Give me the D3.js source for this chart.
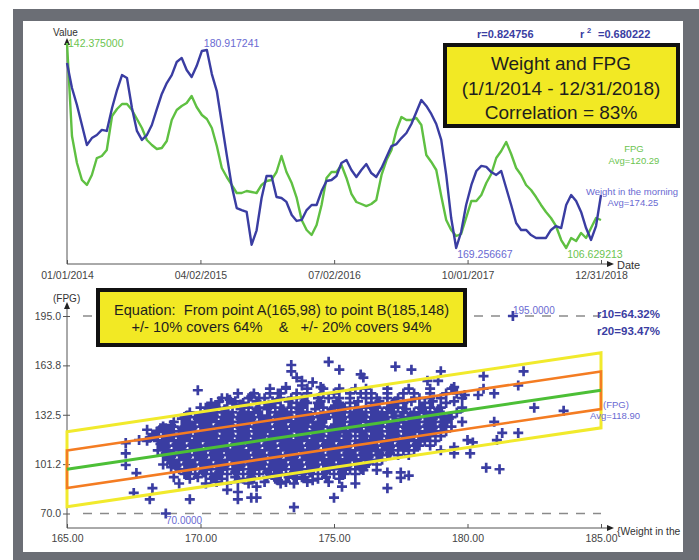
<!DOCTYPE html>
<html>
<head>
<meta charset="utf-8">
<script src="https://cdn.jsdelivr.net/npm/d3@7"></script>
<style>
  body { margin: 0; background: #fff; }
  svg text { font-family: "Liberation Sans", Arial, sans-serif; }
</style>
</head>
<body>
<svg id="chart" width="699" height="560"></svg>
<script>
// ---- Time series (moving averages), sampled evenly from first to last day ----
const startDate = "2014-01-01";
const endDate = "2018-12-31";
const weightAvg = [
  180.15, 178.68, 177.68, 176.50, 175.32, 175.73, 175.91, 176.21, 176.15, 177.50,
  178.56, 179.44, 179.27, 177.50, 176.15, 175.62, 175.91, 176.50, 177.44, 178.33,
  178.97, 179.44, 180.21, 180.45, 179.74, 179.33, 179.97, 180.86, 180.917241, 179.50,
  178.50, 176.62, 174.73, 172.91, 171.61, 171.49, 171.38, 169.45, 170.30, 172.20,
  173.50, 173.50, 172.26, 172.20, 171.97, 171.20, 170.85, 170.91, 171.49, 171.79,
  171.79, 172.61, 173.20, 173.26, 173.50, 174.26, 174.44, 173.85, 173.44, 173.85,
  174.20, 173.67, 173.44, 173.97, 174.62, 175.26, 175.38, 175.73, 176.03, 176.56,
  177.27, 177.97, 177.62, 177.15, 176.56, 175.62, 173.56, 171.02, 169.256667, 170.20,
  171.79, 172.97, 173.79, 174.09, 174.03, 173.73, 173.56, 173.79, 172.79, 171.79,
  170.73, 170.32, 170.32, 170.02, 169.85, 169.85, 169.85, 170.32, 170.55, 170.43,
  171.79, 172.38, 172.02, 171.38, 170.43, 169.73, 170.55, 172.38
];
const fpgAvg = [
  142.375, 126.16, 121.45, 118.49, 117.62, 119.36, 122.32, 122.67, 123.72, 129.65,
  130.87, 131.74, 131.74, 130.69, 129.12, 127.55, 125.46, 124.59, 123.89, 124.07,
  125.29, 128.95, 130.69, 131.39, 131.91, 133.13, 131.22, 129.82, 129.12, 127.55,
  124.42, 120.58, 119.01, 117.62, 116.22, 116.22, 116.57, 116.39, 116.22, 117.62,
  118.31, 118.49, 119.88, 122.67, 119.88, 117.96, 115.35, 111.51, 109.77, 108.90,
  110.64, 114.13, 118.84, 119.88, 119.88, 121.10, 118.84, 116.05, 114.65, 114.30,
  113.95, 114.30, 115.00, 119.36, 121.97, 123.72, 127.21, 129.47, 128.95, 128.95,
  129.30, 128.08, 122.85, 121.63, 120.23, 115.70, 111.51, 109.77, 108.72, 109.07,
  111.86, 114.83, 114.83, 115.87, 117.96, 119.53, 122.32, 123.54, 125.11, 123.02,
  120.58, 119.36, 117.62, 116.74, 115.52, 114.13, 112.91, 111.86, 110.47, 108.02,
  106.629213, 108.37, 107.85, 109.25, 108.37, 110.12, 111.86, 111.51
];
const dateTickLabels = ["01/01/2014", "04/02/2015", "07/02/2016", "10/01/2017", "12/31/2018"];
const weightAvgLabel = "Avg=174.25";
const fpgAvgLabel = "Avg=120.29";
const corrR = "0.824756";
const corrR2 = "0.680222";

// ---- Scatter: daily (weight, FPG) readings ----
// dense part, one row per FPG level: [FPG, weights]
const scatterRows = [
  [149, "172.6 173.2 174.0 174.6 175.2 175.8 176.2 177.0 177.8 178.6 179.4"],
  [146, "171.4 172.0 172.6 173.0 173.6 174.0 174.6 175.0 175.6 176.0 176.4 177.0 177.6 178.0 178.6 179.2 179.6"],
  [143, "170.8 171.0 171.8 172.4 173.0 173.4 173.8 174.4 174.8 175.2 175.6 176.2 176.6 177.0 177.4 178.2 178.6 179.0 179.8"],
  [141, "170.7 171.3 172.1 172.7 173.3 173.9 174.5 175.1 175.9 176.7 177.3 177.9 178.7 179.5"],
  [140, "170.4 171.2 171.6 172.4 172.8 173.6 174.0 174.4 175.2 175.6 176.4 177.2 177.6 178.4 179.2"],
  [137, "170.2 170.6 171.0 171.8 172.2 172.6 173.0 173.4 173.8 174.6 175.0 175.4 175.8 176.2 176.6 177.0 177.4 178.2 178.6 179.0 179.8"],
  [136, "170.3 170.9 171.5 172.1 172.5 173.1 173.7 174.3 174.9 175.3 175.9 176.5 177.1 177.7 178.3 178.9"],
  [134, "169.6 170.0 170.4 170.8 171.2 171.6 172.0 172.8 173.2 173.6 174.0 174.8 175.2 175.6 176.0 176.4 176.8 177.2 177.6 178.0 178.4 178.8 179.6"],
  [132, "169.5 170.1 170.5 171.1 171.7 172.3 172.9 173.3 173.9 174.5 175.1 175.7 176.1 176.7 177.3 177.9 178.5 179.1"],
  [131, "169.4 169.8 170.2 170.6 171.0 171.4 171.8 172.2 172.6 173.0 173.4 173.8 174.2 174.6 175.0 175.4 175.8 176.2 176.6 177.0 177.8 178.2 178.6 179.0 179.4"],
  [130, "169.3 169.9 170.3 170.9 171.5 171.9 172.5 173.1 173.7 174.1 174.7 175.3 175.9 176.5 176.9 177.5 178.1 178.7 179.3"],
  [128, "169.0 169.6 170.0 170.4 170.8 171.2 171.6 172.0 172.4 172.8 173.2 173.6 174.0 174.4 175.2 175.6 176.0 176.4 176.8 177.2 177.6 178.0 178.4 178.8 179.2 179.8"],
  [126, "168.9 169.5 170.1 170.7 171.1 171.7 172.3 172.9 173.5 173.9 174.5 175.1 175.7 176.3 176.7 177.3 177.9 178.5 179.1"],
  [125, "168.6 169.0 169.4 169.8 170.2 170.6 171.0 171.4 171.8 172.2 172.6 173.0 173.4 173.8 174.2 174.6 175.0 175.4 175.8 176.2 176.6 177.0 177.4 177.8 178.2 178.6 179.0 179.4"],
  [124, "168.7 169.3 169.7 170.3 170.9 171.5 172.1 172.5 173.1 173.7 174.3 174.9 175.3 175.9 176.5 177.1 177.7 178.1 178.7"],
  [122, "168.4 168.8 169.2 169.6 170.0 170.4 170.8 171.2 171.6 172.0 172.4 172.8 173.2 173.6 174.0 174.4 174.8 175.2 175.6 176.0 176.4 176.8 177.2 177.6 178.0 178.4 178.8 179.2"],
  [120, "168.3 168.9 169.5 170.1 170.5 171.1 171.7 172.3 172.9 173.3 173.9 174.5 175.1 175.5 176.1 176.7 177.3 177.9 178.5"],
  [119, "168.2 168.6 169.0 169.4 169.8 170.2 170.6 171.0 171.4 171.8 172.2 172.6 173.0 173.4 173.8 174.2 174.6 175.0 175.4 175.8 176.2 176.6 177.0 177.4 177.8 178.2 178.6 179.0"],
  [118, "168.1 168.7 169.3 169.9 170.3 170.9 171.5 172.1 172.7 173.1 173.7 174.3 174.9 175.5 176.1 176.5 177.1 177.7 178.3"],
  [116, "168.0 168.4 168.8 169.2 169.6 170.0 170.4 170.8 171.2 171.6 172.0 172.4 172.8 173.2 173.6 174.0 174.4 174.8 175.2 175.6 176.0 176.4 176.8 177.2 177.6 178.0 178.4 178.8"],
  [114, "168.5 169.1 169.7 170.3 170.7 171.3 171.9 172.5 173.1 173.5 174.1 174.7 175.3 175.9 176.3 176.9 177.5 178.1"],
  [113, "168.6 169.0 169.4 169.8 170.2 170.6 171.0 171.4 171.8 172.2 172.6 173.0 173.4 173.8 174.2 174.6 175.0 175.4 175.8 176.2 176.6 177.0 177.4 177.8 178.2 178.6"],
  [112, "168.7 169.3 169.9 170.5 170.9 171.5 172.1 172.7 173.3 173.7 174.3 174.9 175.5 176.1 176.5 177.1 177.7"],
  [110, "168.4 168.8 169.2 169.6 170.0 170.4 170.8 171.2 171.6 172.0 172.4 172.8 173.2 173.6 174.0 174.4 174.8 175.2 175.6 176.0 176.4 176.8 177.2 177.6 178.0"],
  [108, "168.7 169.3 169.9 170.5 171.1 171.5 172.1 172.7 173.3 173.9 174.3 174.9 175.5 176.1 176.7 177.1"],
  [107, "168.6 169.0 169.4 169.8 170.2 170.6 171.0 171.4 171.8 172.2 172.6 173.0 173.4 173.8 174.2 174.6 175.0 175.4 175.8 176.2 176.6 177.0 177.4 177.8"],
  [106, "168.9 169.5 170.1 170.7 171.3 171.7 172.3 172.9 173.5 174.1 174.5 175.1 175.7 176.3"],
  [104, "168.8 169.2 169.6 170.0 170.4 170.8 171.2 171.6 172.0 172.4 172.8 173.2 173.6 174.0 174.4 174.8 175.2 175.6 176.0 176.4 176.8"],
  [102, "168.9 169.5 170.1 170.7 171.3 171.9 172.3 172.9 173.5 174.1 174.7 175.3 175.9 176.3"],
  [101, "168.6 169.0 169.4 169.8 170.2 170.6 171.0 171.4 171.8 172.2 172.6 173.0 173.4 173.8 174.2 174.6 175.0 175.4 175.8 176.2 176.6"],
  [100, "169.1 169.7 170.3 170.9 171.5 172.1 172.7 173.1 173.7 174.3 174.9 175.5"],
  [98,  "169.2 169.6 170.0 170.4 170.8 171.2 171.6 172.0 172.4 172.8 173.2 173.6 174.0 174.4 174.8 175.2 175.6 176.0"],
  [96,  "169.5 170.1 170.7 171.3 171.9 172.5 172.9 173.5 174.1 174.7 175.3"],
  [95,  "169.4 169.8 170.2 170.6 171.0 171.4 171.8 172.2 172.6 173.0 173.4 173.8 174.2 174.6 175.0 175.4 175.8"],
  [93,  "169.9 170.5 171.3 171.9 172.5 173.3 173.9 174.7"],
  [92,  "169.6 170.4 170.8 171.6 172.0 172.8 173.6 174.4 175.2"],
  [90,  "170.6 171.4 172.4 173.2 174.0"],
  [89,  "170.2 171.0 171.8 173.0"]
];
// scattered readings away from the main cloud: [weight, FPG]
const scatterSparse = [
  [174.8, 166], [175.2, 161], [173.4, 164], [173.4, 160], [173.6, 156], [173.8, 154],
  [173.8, 151], [174.2, 153], [174.5, 150], [169.9, 148], [172.6, 149], [173.2, 150],
  [172.9, 146], [171.9, 144], [172.2, 143], [171.1, 142], [171.5, 139], [170.0, 137],
  [170.5, 137], [177.3, 163], [177.9, 161], [179.0, 160], [180.6, 157], [182.1, 160],
  [181.9, 151], [176.0, 158], [176.1, 156], [178.5, 154], [178.9, 154], [179.5, 150],
  [179.9, 145], [180.4, 145], [180.6, 149], [181.0, 146], [182.5, 137], [183.6, 135],
  [181.7, 195],
  [167.2, 114.6], [167.2, 108], [167.2, 100.7], [167.6, 95.6], [167.5, 83], [168.1, 79],
  [168.2, 86], [168.7, 70], [169.6, 79], [171.4, 83.6], [171.4, 79], [171.9, 80],
  [172.1, 80], [172.1, 87], [173.5, 74], [172.9, 91], [173.5, 89], [173.8, 93],
  [174.2, 91], [174.8, 90], [175.0, 80], [175.3, 87], [170.6, 90], [171.0, 85],
  [167.7, 116.5], [168.0, 123], [168.2, 120], [168.5, 124], [168.9, 99.4], [169.0, 93],
  [169.2, 89], [180.7, 99], [181.2, 98], [181.3, 121], [181.9, 121], [181.1, 116.5],
  [180.0, 116.5], [180.2, 115], [179.5, 112], [180.1, 108], [179.5, 108], [179.0, 110],
  [177.5, 96], [177.5, 92.5], [177.8, 94], [177.0, 96], [176.6, 97.5], [177.0, 86],
  [175.8, 89], [176.1, 97.5], [181.0, 128]
];
const weightTicks = [165, 170, 175, 180, 185];
const fpgTicks = [70, 101.25, 132.5, 163.75, 195];
const fpgTickLabels = ["70.0", "101.2", "132.5", "163.8", "195.0"];
const fpgLimits = [70, 195];
// regression line through A and B, bands as a share of the FPG average
const pointA = [165, 98];
const pointB = [185, 148];
const fpgAverage = 118.90;
const bandShares = [0.10, 0.20];
const bandCoverage = ["64.32%", "93.47%"];

// ---- colours ----
const BLUE = "#3a3da2";
const GREEN = "#5fc042";
const LIGHT_BLUE = "#6a6ad2";
const LIGHT_GREEN = "#6cc450";
const YELLOW = "#f2e924";
const BAND_YELLOW = "#f1ea2c";
const BAND_ORANGE = "#f47c22";
const FIT_GREEN = "#4cbf36";
const AXIS = "#555";
const TICK_TEXT = "#444";

const svg = d3.select("#chart");
svg.append("rect").attr("width", 699).attr("height", 560).attr("fill", "#fff");

function arrowUp(g, x, y) {
  g.append("path").attr("d", `M${x},${y} L${x - 3},${y + 7} L${x + 3},${y + 7} Z`).attr("fill", "#222");
}
function arrowRight(g, x, y) {
  g.append("path").attr("d", `M${x},${y} L${x - 7},${y - 3} L${x - 7},${y + 3} Z`).attr("fill", "#222");
}

// =================== Upper panel: moving averages over time ===================
const gTop = svg.append("g");
const parseIso = d3.timeParse("%Y-%m-%d");
const parseTick = d3.timeParse("%m/%d/%Y");
const t0 = parseIso(startDate), t1 = parseIso(endDate);
const spanDays = d3.timeDay.count(t0, t1);
const sampleDate = i => d3.timeDay.offset(t0, Math.round(i * spanDays / (weightAvg.length - 1)));

const xTime = d3.scaleTime().domain([t0, t1]).range([67, 601]);
const yWeight = d3.scaleLinear().domain(d3.extent(weightAvg)).range([248, 50]);
const yFpg = d3.scaleLinear().domain(d3.extent(fpgAvg)).range([248, 43]);

const xAxisTop = d3.axisBottom(xTime)
  .tickValues(dateTickLabels.map(parseTick))
  .tickFormat((d, i) => dateTickLabels[i])
  .tickSizeInner(-4).tickSizeOuter(0).tickPadding(8);
const gxt = gTop.append("g").attr("transform", "translate(0,264)").call(xAxisTop);
gxt.select(".domain").remove();
gxt.selectAll(".tick line").attr("stroke", AXIS);
gxt.selectAll(".tick text").attr("fill", TICK_TEXT).attr("font-size", 10.5)
  .attr("font-family", "Liberation Sans, Arial, sans-serif");

gTop.append("line").attr("x1", 67).attr("x2", 609).attr("y1", 264).attr("y2", 264).attr("stroke", AXIS);
gTop.append("line").attr("x1", 67).attr("x2", 67).attr("y1", 264).attr("y2", 44).attr("stroke", AXIS);
arrowUp(gTop, 67, 38);
arrowRight(gTop, 614, 264);
gTop.append("text").attr("x", 53).attr("y", 36).attr("font-size", 10).attr("fill", "#333").text("Value");
gTop.append("text").attr("x", 617).attr("y", 269).attr("font-size", 11).attr("fill", "#333").text("Date");

const lineF = d3.line().x((d, i) => xTime(sampleDate(i))).y(d => yFpg(d));
const lineW = d3.line().x((d, i) => xTime(sampleDate(i))).y(d => yWeight(d));
gTop.append("path").datum(fpgAvg).attr("d", lineF).attr("fill", "none")
  .attr("stroke", GREEN).attr("stroke-width", 2.4).attr("stroke-linejoin", "round");
gTop.append("path").datum(weightAvg).attr("d", lineW).attr("fill", "none")
  .attr("stroke", BLUE).attr("stroke-width", 2.4).attr("stroke-linejoin", "round");

// extreme value labels
const f6 = d3.format(".6f");
const iWmax = d3.maxIndex(weightAvg), iWmin = d3.minIndex(weightAvg);
const iFmax = d3.maxIndex(fpgAvg), iFmin = d3.minIndex(fpgAvg);
const small = (x, y, txt, col, anchor) => gTop.append("text").attr("x", x).attr("y", y)
  .attr("font-size", 10.5).attr("fill", col).attr("text-anchor", anchor || "start").text(txt);
small(xTime(sampleDate(iFmax)) + 1, 47, f6(fpgAvg[iFmax]), LIGHT_GREEN);
small(xTime(sampleDate(iWmax)) - 3, 47, f6(weightAvg[iWmax]), LIGHT_BLUE);
small(xTime(sampleDate(iWmin)) + 1, 258, f6(weightAvg[iWmin]), LIGHT_BLUE);
small(xTime(sampleDate(iFmin)) + 1, 258, f6(fpgAvg[iFmin]), LIGHT_GREEN);

// series names
small(634, 152, "FPG", LIGHT_GREEN, "middle").attr("font-size", 9.5);
small(634, 164, fpgAvgLabel, LIGHT_GREEN, "middle").attr("font-size", 9.5);
small(632, 195, "Weight in the morning", LIGHT_BLUE, "middle").attr("font-size", 9.5);
small(633, 206, weightAvgLabel, LIGHT_BLUE, "middle").attr("font-size", 9.5);

// correlation figures
const boldFont = "DejaVu Sans, Verdana, sans-serif";
gTop.append("text").attr("x", 477).attr("y", 38).attr("font-family", boldFont).attr("font-weight", "bold")
  .attr("font-size", 11).attr("fill", BLUE).text("r=" + corrR);
gTop.append("text").attr("x", 580).attr("y", 38).attr("font-family", boldFont).attr("font-weight", "bold")
  .attr("font-size", 11).attr("fill", BLUE).text("r");
gTop.append("text").attr("x", 587).attr("y", 33).attr("font-family", boldFont).attr("font-weight", "bold")
  .attr("font-size", 7.5).attr("fill", BLUE).text("2");
gTop.append("text").attr("x", 598).attr("y", 38).attr("font-family", boldFont).attr("font-weight", "bold")
  .attr("font-size", 11).attr("fill", BLUE).text("=" + corrR2);

// title box
gTop.append("rect").attr("x", 445).attr("y", 45).attr("width", 233).attr("height", 81)
  .attr("fill", YELLOW).attr("stroke", "#111").attr("stroke-width", 4);
["Weight and FPG", "(1/1/2014 - 12/31/2018)", "Correlation = 83%"].forEach((t, i) => {
  gTop.append("text").attr("x", 561).attr("y", 70 + i * 24.5).attr("text-anchor", "middle")
    .attr("font-size", 19).attr("fill", "#1e1e1e").text(t);
});

// =================== Lower panel: FPG against weight ===================
const gBot = svg.append("g");
const xW = d3.scaleLinear().domain([165, 185]).range([67, 601]);
const yG = d3.scaleLinear().domain(fpgLimits).range([513.5, 316]);

// reference lines at the FPG limits
fpgLimits.forEach(v => {
  gBot.append("line").attr("x1", 83).attr("x2", xW(185)).attr("y1", yG(v)).attr("y2", yG(v))
    .attr("stroke", "#8a8a8a").attr("stroke-width", 1.6).attr("stroke-dasharray", "9,8");
});

const xAxisBot = d3.axisBottom(xW).tickValues(weightTicks).tickFormat(d3.format(".2f"))
  .tickSizeInner(-4).tickSizeOuter(0).tickPadding(7);
const gxb = gBot.append("g").attr("transform", "translate(0,528)").call(xAxisBot);
gxb.select(".domain").remove();
gxb.selectAll(".tick line").attr("stroke", AXIS);
gxb.selectAll(".tick text").attr("fill", TICK_TEXT).attr("font-size", 10.5)
  .attr("font-family", "Liberation Sans, Arial, sans-serif");

const yAxisBot = d3.axisLeft(yG).tickValues(fpgTicks).tickFormat((d, i) => fpgTickLabels[i])
  .tickSizeInner(4).tickSizeOuter(0).tickPadding(2);
const gyb = gBot.append("g").attr("transform", "translate(67,0)").call(yAxisBot);
gyb.select(".domain").remove();
gyb.selectAll(".tick line").attr("stroke", AXIS).attr("x2", 3).attr("x1", -4);
gyb.selectAll(".tick text").attr("fill", TICK_TEXT).attr("font-size", 10.5)
  .attr("font-family", "Liberation Sans, Arial, sans-serif");

gBot.append("line").attr("x1", 67).attr("x2", 609).attr("y1", 528).attr("y2", 528).attr("stroke", AXIS);
gBot.append("line").attr("x1", 67).attr("x2", 67).attr("y1", 528).attr("y2", 308).attr("stroke", AXIS);
arrowUp(gBot, 67, 302);
arrowRight(gBot, 614, 528);
gBot.append("text").attr("x", 53).attr("y", 302).attr("font-size", 10).attr("fill", "#333").text("(FPG)");
gBot.append("text").attr("x", 617).attr("y", 535).attr("font-size", 10.3).attr("fill", "#333")
  .text("{Weight in the");

// scatter points as plus marks
const points = [];
scatterRows.forEach(([f, ws]) => ws.split(" ").forEach(w => points.push([+w, f])));
scatterSparse.forEach(p => points.push(p));
const plus = d => {
  const x = xW(d[0]), y = yG(d[1]);
  return `M${x - 5},${y}H${x + 5}M${x},${y - 5}V${y + 5}`;
};
gBot.append("path").attr("d", points.map(plus).join(""))
  .attr("stroke", BLUE).attr("stroke-width", 2.7).attr("fill", "none");

// bands around the fitted line
const fitAt = w => pointA[1] + (pointB[1] - pointA[1]) * (w - pointA[0]) / (pointB[0] - pointA[0]);
const band = share => {
  const h = fpgAverage * share;
  return [[pointA[0], fitAt(pointA[0]) + h], [pointB[0], fitAt(pointB[0]) + h],
          [pointB[0], fitAt(pointB[0]) - h], [pointA[0], fitAt(pointA[0]) - h]];
};
const poly = d3.line().x(d => xW(d[0])).y(d => yG(d[1]));
gBot.append("path").attr("d", poly(band(bandShares[1])) + "Z").attr("fill", "none")
  .attr("stroke", BAND_YELLOW).attr("stroke-width", 3);
gBot.append("path").attr("d", poly(band(bandShares[0])) + "Z").attr("fill", "none")
  .attr("stroke", BAND_ORANGE).attr("stroke-width", 2.6);
gBot.append("path").attr("d", poly([[pointA[0], fitAt(pointA[0])], [pointB[0], fitAt(pointB[0])]]))
  .attr("fill", "none").attr("stroke", FIT_GREEN).attr("stroke-width", 3);

// limit labels
const f4 = d3.format(".4f");
gBot.append("text").attr("x", 513).attr("y", 314).attr("font-size", 10).attr("fill", LIGHT_BLUE).text(f4(fpgLimits[1]));
gBot.append("text").attr("x", 166).attr("y", 524).attr("font-size", 10).attr("fill", LIGHT_BLUE).text(f4(fpgLimits[0]));
gBot.append("text").attr("x", 603).attr("y", 408).attr("font-size", 9.5).attr("fill", LIGHT_BLUE).text("(FPG)");
gBot.append("text").attr("x", 590).attr("y", 419).attr("font-size", 9.5).attr("fill", LIGHT_BLUE)
  .text("Avg=" + fpgAverage.toFixed(2));

// band coverage
bandCoverage.forEach((c, i) => {
  gBot.append("text").attr("x", 597).attr("y", 318 + i * 17).attr("font-family", boldFont)
    .attr("font-weight", "bold").attr("font-size", 11.5).attr("fill", BLUE)
    .text(`r${(i + 1) * 10}=${c}`);
});

// equation box
gBot.append("rect").attr("x", 98).attr("y", 290).attr("width", 367).attr("height", 55)
  .attr("fill", YELLOW).attr("stroke", "#111").attr("stroke-width", 4);
const eq1 = `Equation:  From point A(${pointA[0]},${pointA[1]}) to point B(${pointB[0]},${pointB[1]})`;
const eq2 = "+/- 10% covers 64%    &   +/- 20% covers 94%";
[eq1, eq2].forEach((t, i) => {
  gBot.append("text").attr("x", 281.5).attr("y", 315 + i * 17).attr("text-anchor", "middle")
    .attr("font-size", 14.6).attr("fill", "#1e1e1e").style("white-space", "pre").text(t);
});

// =================== frame ===================
svg.append("path")
  .attr("d", "M13,9H699V560H13Z M23,21V552H683V21Z")
  .attr("fill", "#6b6e75").attr("fill-rule", "evenodd");
</script>
</body>
</html>
